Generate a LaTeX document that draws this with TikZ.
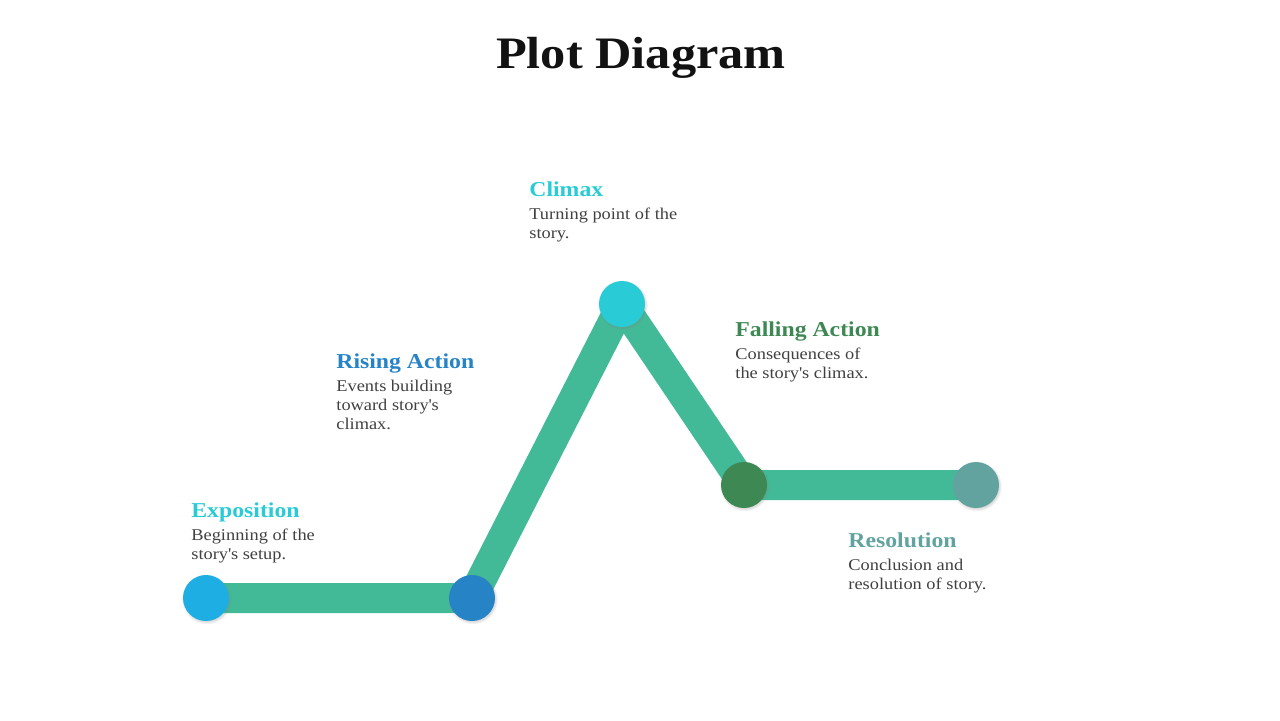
\documentclass[tikz,border=0pt]{standalone}
\usepackage{fontspec}
\setmainfont{Liberation Serif}[FakeStretch=1.12]
\usepackage{tikz}
\usetikzlibrary{positioning,backgrounds,shadows}
\definecolor{bandc}{RGB}{67,186,151}
\definecolor{expoc}{RGB}{31,174,228}
\definecolor{expotxt}{RGB}{41,204,214}
\definecolor{risec}{RGB}{38,131,198}
\definecolor{climc}{RGB}{41,204,214}
\definecolor{fallc}{RGB}{62,136,83}
\definecolor{resc}{RGB}{98,163,159}
\definecolor{bodyc}{RGB}{64,64,64}

\begin{document}
\begin{tikzpicture}[x=0.5pt,y=-0.5pt,
  dot/.style={circle,minimum size=23pt,inner sep=0pt,
    circular drop shadow={shadow xshift=0.3pt,shadow yshift=-0.5pt,shadow scale=1.1,opacity=0.3}},
  head/.style={anchor=base west,inner sep=0pt,font=\fontsize{10.6pt}{13pt}\selectfont\bfseries},
  body/.style={anchor=north west,inner sep=0pt,align=left,text=bodyc,
    font=\fontsize{8.2pt}{9.5pt}\selectfont}]
  \useasboundingbox (0,0) rectangle (1280,720);

  % Title.
  \node[anchor=base,inner sep=0pt,text=black!93,font=\fontsize{22.5pt}{25pt}\selectfont\bfseries]
    (title) at (641,68) {Plot Diagram};

  % Stages of the plot.
  \node[dot,fill=expoc] (expo) at (206,598) {};
  \node[dot,fill=risec] (rise) at (472,598) {};
  \node[dot,fill=climc] (clim) at (622,304) {};
  \node[dot,fill=fallc] (fall) at (744,485) {};
  \node[dot,fill=resc] (reso) at (976,485) {};

  % Band behind the stages.
  \begin{scope}[on background layer]
    \draw[bandc,line width=15pt,line join=round]
      (expo.center) -- (rise.center) -- (clim.center) -- (fall.center) -- (reso.center);
  \end{scope}

  % Labels.
  \node[head,text=expotxt] (expo-h) at (191,517) {Exposition};
  \node[body,below=6pt of expo-h.base west,anchor=north west] (expo-b)
    {Beginning of the\\story\textquotesingle s setup.};

  \node[head,text=risec] (rise-h) at (336,368) {Rising Action};
  \node[body,below=6pt of rise-h.base west,anchor=north west] (rise-b)
    {Events building\\toward story\textquotesingle s\\climax.};

  \node[head,text=climc] (clim-h) at (529,196) {Climax};
  \node[body,below=6pt of clim-h.base west,anchor=north west] (clim-b)
    {Turning point of the\\story.};

  \node[head,text=fallc] (fall-h) at (735,336) {Falling Action};
  \node[body,below=6pt of fall-h.base west,anchor=north west] (fall-b)
    {Consequences of\\the story\textquotesingle s climax.};

  \node[head,text=resc] (reso-h) at (848,547) {Resolution};
  \node[body,below=6pt of reso-h.base west,anchor=north west] (reso-b)
    {Conclusion and\\resolution of story.};
\end{tikzpicture}
\end{document}
